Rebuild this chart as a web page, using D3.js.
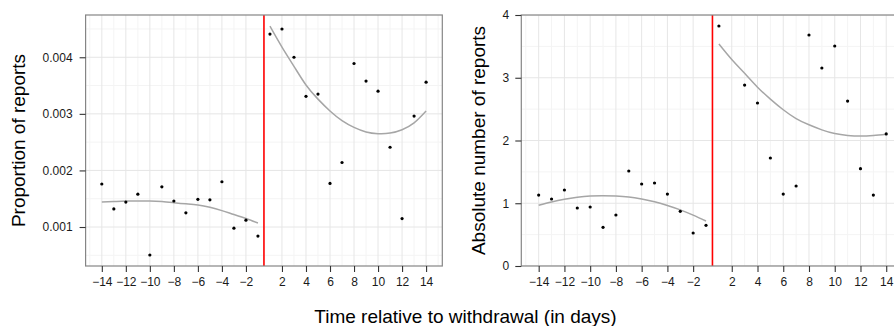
<!DOCTYPE html>
<html>
<head>
<meta charset="utf-8">
<script src="https://cdn.jsdelivr.net/npm/d3@7"></script>
<style>
  html, body { margin: 0; padding: 0; background: #fff; }
  svg { display: block; font-family: "Liberation Sans", Arial, sans-serif; }
</style>
</head>
<body>
<svg id="chart" width="894" height="326"></svg>
<script>
// ---------- data ----------
const days = [-14,-13,-12,-11,-10,-9,-8,-7,-6,-5,-4,-3,-2,-1,1,2,3,4,5,6,7,8,9,10,11,12,13,14];
const tickDays = [-14,-12,-10,-8,-6,-4,-2,2,4,6,8,10,12,14];
const tickLabels = ["\u221214","\u221212","\u221210","\u22128","\u22126","\u22124","\u22122","2","4","6","8","10","12","14"];

// proportion of reports (left panel)
const proportion = [0.00176,0.00132,0.00144,0.00158,0.000505,0.00171,0.00146,0.00125,0.00149,0.00148,0.00180,0.00098,0.00112,0.00084,
                    0.00441,0.00450,0.00400,0.00331,0.00335,0.00177,0.00214,0.00389,0.00358,0.00340,0.00241,0.00115,0.00296,0.00356];
// fitted smooth (left panel), pre and post
const propFitPre  = [0.00144,0.00145,0.00146,0.00146,0.00146,0.00145,0.00143,0.00141,0.00139,0.00135,0.00129,0.00122,0.00115,0.00107];
const propFitPost = [0.00455,0.00418,0.00384,0.00351,0.00326,0.00305,0.00288,0.00276,0.00268,0.00265,0.00266,0.00272,0.00284,0.00305];

// absolute number of reports (right panel); day 2 lies above the axis limit and is not drawn
const counts = [1.131,1.068,1.211,0.924,0.940,0.616,0.813,1.514,1.307,1.323,1.147,0.871,0.526,0.648,
                3.825,null,2.884,2.598,1.721,1.147,1.275,3.681,3.155,3.506,2.629,1.551,1.131,2.104];
const countFitPre  = [0.967,1.020,1.063,1.095,1.115,1.120,1.115,1.100,1.068,1.025,0.965,0.895,0.810,0.717];
const countFitPost = [3.538,3.290,3.070,2.850,2.660,2.490,2.350,2.250,2.170,2.110,2.080,2.070,2.080,2.100];

const yTicksLeft = [0.001,0.002,0.003,0.004];
const yTicksLeftMinor = [0.0005,0.0015,0.0025,0.0035,0.0045];
const yTicksRight = [0,1,2,3,4];
const yTicksRightMinor = [0.5,1.5,2.5,3.5];

// ---------- helpers ----------
const idx = d => d < 0 ? d + 14 : d + 13;   // day -> position (no day 0)
const preDays = days.filter(d => d < 0);
const postDays = days.filter(d => d > 0);
const tickPos = tickDays.map(idx);
const minorPos = [-1];
for (let i = 0; i < tickPos.length - 1; i++) minorPos.push((tickPos[i] + tickPos[i+1]) / 2);
minorPos.push(28);

const svg = d3.select("#chart");

function panel(cfg) {
  const x = d3.scaleLinear().domain([-1.35, 28.35]).range(cfg.xRange);
  const y = d3.scaleLinear().domain(cfg.yDomain).range([266, 15]);
  const [x0, x1] = cfg.xRange;
  const g = svg.append("g");
  const clipId = "clip" + cfg.id;
  svg.append("clipPath").attr("id", clipId).append("rect")
    .attr("x", x0).attr("y", 15).attr("width", x1 - x0).attr("height", 251);

  g.append("rect").attr("x", x0).attr("y", 15).attr("width", x1 - x0).attr("height", 251).attr("fill", "#fff");
  const grid = g.append("g").attr("clip-path", `url(#${clipId})`);
  // minor grid
  grid.selectAll(".vminor").data(minorPos).join("line")
    .attr("x1", d => x(d)).attr("x2", d => x(d)).attr("y1", 15).attr("y2", 266)
    .attr("stroke", "#f4f4f4").attr("stroke-width", 1);
  grid.selectAll(".hminor").data(cfg.yMinor).join("line")
    .attr("x1", x0).attr("x2", x1).attr("y1", d => y(d)).attr("y2", d => y(d))
    .attr("stroke", "#f4f4f4").attr("stroke-width", 1);
  // major grid
  grid.selectAll(".vmajor").data(tickPos).join("line")
    .attr("x1", d => x(d)).attr("x2", d => x(d)).attr("y1", 15).attr("y2", 266)
    .attr("stroke", "#e6e6e6").attr("stroke-width", 1);
  grid.selectAll(".hmajor").data(cfg.yTicks).join("line")
    .attr("x1", x0).attr("x2", x1).attr("y1", d => y(d)).attr("y2", d => y(d))
    .attr("stroke", "#e6e6e6").attr("stroke-width", 1);

  const plot = g.append("g").attr("clip-path", `url(#${clipId})`);
  // red withdrawal line
  plot.append("line").attr("x1", x(13.5)).attr("x2", x(13.5)).attr("y1", 15).attr("y2", 266)
    .attr("stroke", "#ff0000").attr("stroke-width", 1.6);
  // smooth curves
  const line = d3.line().x(d => x(idx(d[0]))).y(d => y(d[1])).curve(d3.curveNatural);
  plot.append("path").datum(preDays.map((d, i) => [d, cfg.fitPre[i]]))
    .attr("d", line).attr("fill", "none").attr("stroke", "#a6a6a6").attr("stroke-width", 1.5);
  plot.append("path").datum(postDays.map((d, i) => [d, cfg.fitPost[i]]))
    .attr("d", line).attr("fill", "none").attr("stroke", "#a6a6a6").attr("stroke-width", 1.5);
  // points
  plot.selectAll(".pt").data(days.map((d, i) => [d, cfg.values[i]]).filter(p => p[1] != null)).join("circle")
    .attr("cx", d => x(idx(d[0]))).attr("cy", d => y(d[1])).attr("r", 1.6).attr("fill", "#000");

  // border
  g.append("rect").attr("x", x0).attr("y", 15).attr("width", x1 - x0).attr("height", 251)
    .attr("fill", "none").attr("stroke", "#858585").attr("stroke-width", 1.2);

  // axes
  const xAxis = d3.axisBottom(x).tickValues(tickPos)
    .tickFormat((d, i) => tickLabels[i]).tickSize(6).tickPadding(5.5);
  const gx = g.append("g").attr("transform", "translate(0,266)").call(xAxis);
  const yAxis = d3.axisLeft(y).tickValues(cfg.yTicks).tickFormat(cfg.yFormat)
    .tickSize(6).tickPadding(cfg.yPad);
  const gy = g.append("g").attr("transform", `translate(${x0},0)`).call(yAxis);
  [gx, gy].forEach(a => {
    a.select(".domain").remove();
    a.selectAll(".tick line").attr("stroke", "#333").attr("stroke-width", 1.1);
    a.selectAll(".tick text").attr("fill", "#1a1a1a").attr("font-size", 12)
      .attr("font-family", "'Liberation Sans', Arial, sans-serif");
  });

  // y title
  svg.append("text")
    .attr("transform", `translate(${cfg.titleX},140.5) rotate(-90)`)
    .attr("text-anchor", "middle").attr("font-size", 19).attr("fill", "#000")
    .text(cfg.title);
}

panel({
  id: "L", xRange: [85.6, 442.3], yDomain: [0.000311, 0.004747],
  yTicks: yTicksLeft, yMinor: yTicksLeftMinor, yFormat: d3.format(".3f"), yPad: 7,
  values: proportion, fitPre: propFitPre, fitPost: propFitPost,
  title: "Proportion of reports", titleX: 25
});
panel({
  id: "R", xRange: [521.3, 903.6], yDomain: [0, 4],
  yTicks: yTicksRight, yMinor: yTicksRightMinor, yFormat: d3.format("d"), yPad: 6,
  values: counts, fitPre: countFitPre, fitPost: countFitPost,
  title: "Absolute number of reports", titleX: 485
});

svg.append("text").attr("x", 465.5).attr("y", 323)
  .attr("text-anchor", "middle").attr("font-size", 19).attr("fill", "#000")
  .text("Time relative to withdrawal (in days)");
</script>
</body>
</html>
